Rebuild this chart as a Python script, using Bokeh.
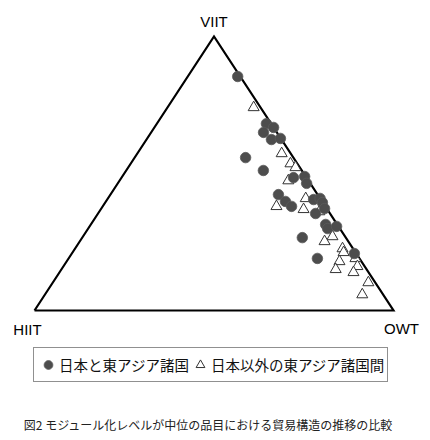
import numpy as np
from bokeh.plotting import figure
from bokeh.models import Range1d, Label, Legend, LegendItem
from bokeh.embed import file_html
from bokeh.resources import INLINE

# ---- data: shares (%) of VIIT / OWT / HIIT ----
# 日本と東アジア諸国
jp_viit = [85.4, 68.2, 66.8, 65.0, 62.4, 62.8, 55.8, 51.1, 48.5, 48.9, 46.4, 42.3, 39.8,
           38.0, 40.5, 40.9, 39.4, 35.4, 37.2, 31.4, 29.9, 30.7, 26.6, 20.8, 19.0]
jp_owt = [13.9, 30.5, 33.2, 31.3, 34.8, 37.1, 30.9, 38.2, 47.9, 50.8, 52.6, 46.8, 50.0,
          52.6, 57.5, 59.1, 60.5, 60.6, 62.2, 65.4, 66.7, 68.8, 61.3, 78.7, 69.3]
jp_hiit = [0.7, 1.3, 0.0, 3.7, 2.8, 0.1, 13.3, 10.7, 3.6, 0.3, 1.0, 10.9, 10.2,
           9.4, 2.0, 0.0, 0.1, 4.0, 0.6, 3.2, 3.4, 0.5, 12.1, 0.5, 11.7]
# 日本以外の東アジア諸国間
ea_viit = [74.1, 57.3, 53.6, 52.2, 47.4, 40.9, 38.0, 36.9, 36.1, 27.0, 25.2, 22.6, 21.2,
           17.9, 19.0, 16.1, 15.0, 13.9, 10.2, 5.8]
ea_owt = [24.0, 40.2, 44.5, 46.6, 47.0, 55.1, 48.4, 56.5, 61.3, 69.5, 68.2, 74.5, 75.5,
          76.0, 79.9, 81.9, 76.4, 81.9, 87.9, 88.4]
ea_hiit = [1.9, 2.5, 1.9, 1.2, 5.6, 4.0, 13.6, 6.6, 2.6, 3.5, 6.6, 2.9, 3.3,
           6.1, 1.1, 2.0, 8.6, 4.2, 1.9, 5.8]

corner_labels = ["VIIT", "HIIT", "OWT"]
series_labels = ["日本と東アジア諸国", "日本以外の東アジア諸国間"]
caption = "図2 モジュール化レベルが中位の品目における貿易構造の推移の比較"


def ternary(viit, owt, hiit):
    v = np.array(viit, float)
    o = np.array(owt, float)
    h = np.array(hiit, float)
    tot = v + o + h
    v, o = v / tot, o / tot
    return o + v / 2.0, v


jx, jy = ternary(jp_viit, jp_owt, jp_hiit)
ex, ey = ternary(ea_viit, ea_owt, ea_hiit)

W, H = 422, 432
p = figure(width=W, height=H, output_backend="svg", toolbar_location=None,
           x_range=Range1d(-34 / 359, (W - 34) / 359),
           y_range=Range1d((310 - H) / 274, 310 / 274),
           min_border=0, outline_line_color=None)
p.axis.visible = False
p.grid.visible = False
p.background_fill_color = "white"

# triangle frame: HIIT (0,0), OWT (1,0), VIIT (0.5,1)
p.line([0, 1, 0.5, 0], [0, 0, 1, 0], line_color="black", line_width=2.2,
       line_join="miter")

r_tri = p.scatter(ex, ey, marker="triangle", size=11, fill_color="white",
                  line_color="#333333", line_width=1)
r_cir = p.scatter(jx, jy, marker="circle", size=10.5, fill_color="#4d4d4d",
                  line_color="#5a5a5a", line_width=0.8)

lab_font = "Liberation Sans"
p.add_layout(Label(x=0.5, y=1.0547, text=corner_labels[0], text_align="center",
                   text_baseline="middle", text_font=lab_font, text_font_size="15px",
                   text_color="black"))
p.add_layout(Label(x=-0.0195, y=-0.0693, text=corner_labels[1], text_align="center",
                   text_baseline="middle", text_font=lab_font, text_font_size="15px",
                   text_color="black"))
p.add_layout(Label(x=1.0223, y=-0.0657, text=corner_labels[2], text_align="center",
                   text_baseline="middle", text_font=lab_font, text_font_size="15px",
                   text_color="black"))

p.add_layout(Label(x=(208 - 34) / 359, y=(310 - 424) / 274, text=caption,
                   text_align="center", text_baseline="middle",
                   text_font="Noto Sans CJK JP", text_font_size="12px",
                   text_color="#222222"))

legend = Legend(items=[LegendItem(label=series_labels[0], renderers=[r_cir]),
                       LegendItem(label=series_labels[1], renderers=[r_tri])],
                orientation="horizontal", location=(33, H - 382), margin=0,
                padding=3, spacing=0, glyph_width=22, glyph_height=27,
                label_standoff=0, label_text_font="Noto Sans CJK JP",
                label_text_font_size="14.5px", label_text_color="#111111",
                border_line_color="#222222", border_line_width=1,
                background_fill_color="white", background_fill_alpha=1.0)
p.add_layout(legend, "center")

open("out.html", "w").write(file_html(p, INLINE))
